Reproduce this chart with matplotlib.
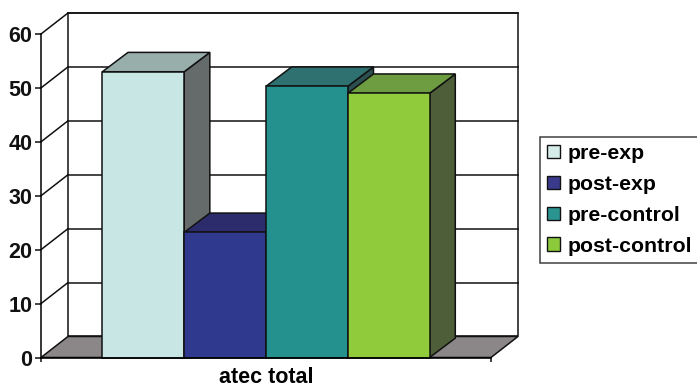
import matplotlib
matplotlib.use("Agg")
import matplotlib.pyplot as plt
from matplotlib.patches import Polygon, Patch

# Data
series = ["pre-exp", "post-exp", "pre-control", "post-control"]
values = [53.0, 23.2, 50.3, 49.0]
category = "atec total"
yticks = [0, 10, 20, 30, 40, 50, 60]

# Styling
front_colors = ["#c8e6e3", "#2f3a8e", "#24918f", "#8fcb3b"]
top_colors = ["#98aeab", "#2c2c6c", "#2f7070", "#6e9c40"]
side_colors = ["#656a6b", "#1f2354", "#2c5050", "#4e5e38"]
legend_colors = ["#d5ecea", "#3a3a8c", "#2c9490", "#8cca3c"]
floor_color = "#8b8687"
edge = "#111111"
lw = 1.1

plt.rcParams["font.family"] = ["Liberation Sans", "DejaVu Sans"]
plt.rcParams["font.weight"] = "bold"

W, H = 697, 390
fig = plt.figure(figsize=(W / 100, H / 100), dpi=100)
fig.patch.set_facecolor("white")

# front plane of the plot area
ax = fig.add_axes([41 / W, (H - 357.5) / H, 450 / W, 323.5 / H])
gap = 0.75
xmax = gap * 2 + len(values)
ymax = 60
ax.set_xlim(0, xmax)
ax.set_ylim(0, ymax)
ax.set_facecolor("none")

# depth of the box (data units)
DX, DY = 0.33, 3.9
BDX, BDY = DX * 0.95, DY * 0.92

# back wall
ax.add_patch(Polygon([(DX, DY), (xmax + DX, DY), (xmax + DX, ymax + DY), (DX, ymax + DY)],
                     closed=True, facecolor="white", edgecolor=edge, lw=lw,
                     clip_on=False, zorder=1))
# gridlines on back wall and left wall
for v in yticks[1:]:
    ax.plot([DX, xmax + DX], [v + DY, v + DY], color=edge, lw=lw, clip_on=False, zorder=2)
    ax.plot([0, DX], [v, v + DY], color=edge, lw=lw, clip_on=False, zorder=2)

# floor
ax.add_patch(Polygon([(0, 0), (xmax, 0), (xmax + DX, DY), (DX, DY)],
                     closed=True, facecolor=floor_color, edgecolor=edge, lw=lw,
                     clip_on=False, zorder=3))

# 3D bars, drawn left to right so each hides the previous side face
for i, (v, fc, tc, sc) in enumerate(zip(values, front_colors, top_colors, side_colors)):
    x0 = gap + i
    x1 = x0 + 1
    z = 4 + i
    side = Polygon([(x1, 0), (x1 + BDX, BDY), (x1 + BDX, v + BDY), (x1, v)],
                   closed=True, facecolor=sc, edgecolor=edge, lw=lw, clip_on=False, zorder=z)
    top = Polygon([(x0, v), (x1, v), (x1 + BDX, v + BDY), (x0 + BDX, v + BDY)],
                  closed=True, facecolor=tc, edgecolor=edge, lw=lw, clip_on=False, zorder=z)
    front = Polygon([(x0, 0), (x1, 0), (x1, v), (x0, v)],
                    closed=True, facecolor=fc, edgecolor=edge, lw=lw, clip_on=False, zorder=z)
    for p in (side, top, front):
        ax.add_patch(p)

# axes
for s in ["top", "right"]:
    ax.spines[s].set_visible(False)
ax.spines["left"].set_linewidth(lw)
ax.spines["bottom"].set_linewidth(lw)
ax.spines["left"].set_zorder(20)
ax.spines["bottom"].set_zorder(20)
ax.set_yticks(yticks)
ax.set_yticklabels([str(t) for t in yticks], fontsize=15.5, fontweight="bold")
ax.tick_params(axis="y", direction="out", length=4.3, width=lw, pad=2, colors=edge)
ax.set_xticks([0, xmax])
ax.set_xticklabels(["", ""])
ax.tick_params(axis="x", direction="out", length=3, width=lw, colors=edge)
ax.set_xlabel(category, fontsize=15.5, fontweight="bold", labelpad=0.5)

# legend
handles = [Patch(facecolor=c, edgecolor=edge, lw=1.0, label=s)
           for s, c in zip(series, legend_colors)]
leg = fig.legend(handles=handles, loc="upper left",
                 bbox_to_anchor=(540 / W, 1 - 137 / H),
                 prop={"size": 15.3, "weight": "bold"},
                 frameon=True, fancybox=False, shadow=False,
                 handlelength=0.6, handleheight=0.6, handletextpad=0.38,
                 labelspacing=0.56, borderpad=0.33, borderaxespad=0)
leg.get_frame().set_edgecolor(edge)
leg.get_frame().set_linewidth(lw)

fig.savefig("out.png", dpi=100)
